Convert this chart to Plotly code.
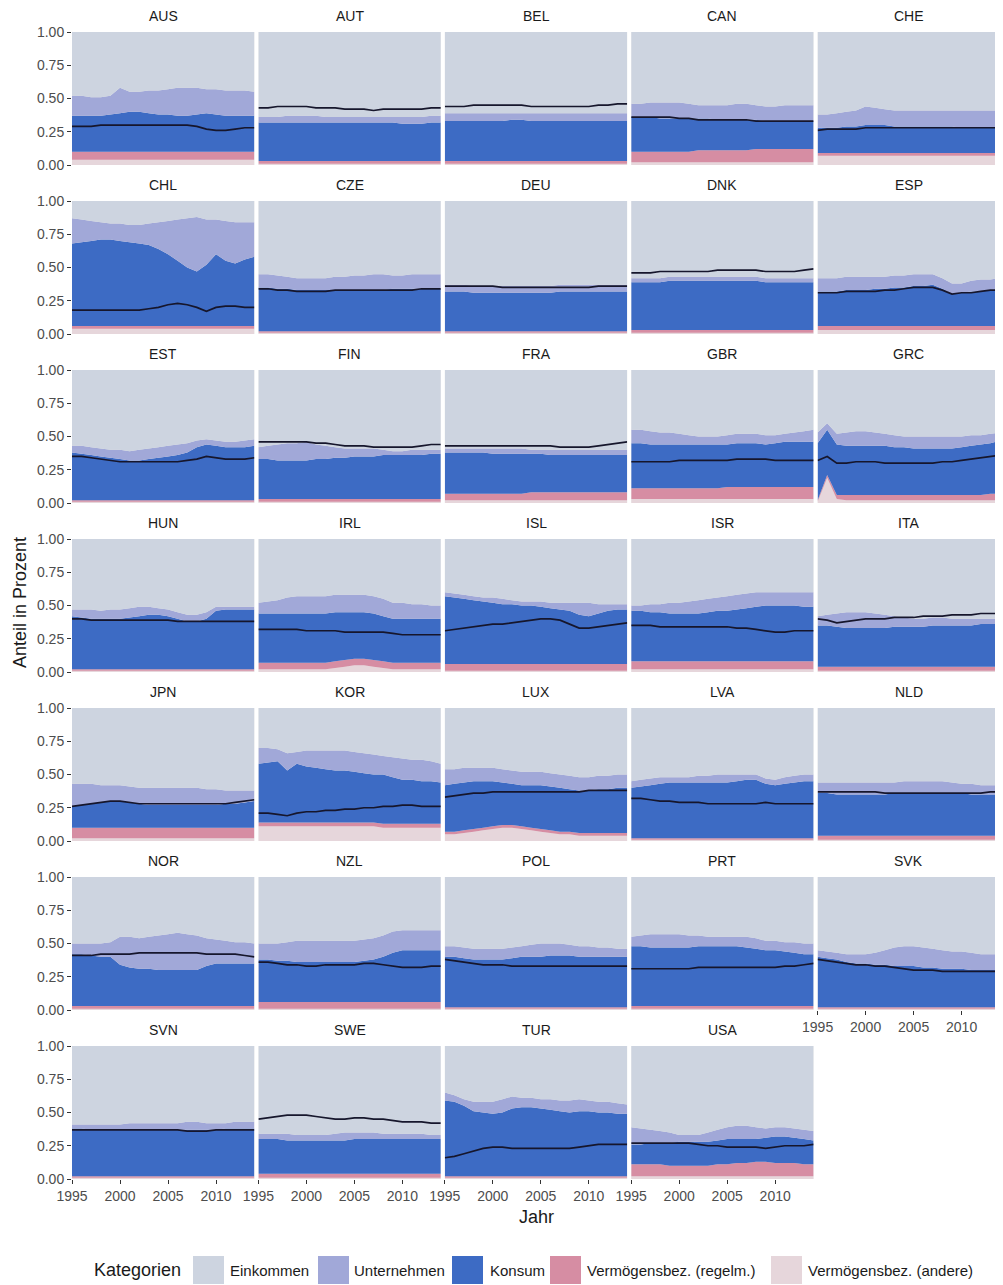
import plotly.graph_objects as go

jahre = list(range(1995, 2015))
laender = ["AUS", "AUT", "BEL", "CAN", "CHE",
           "CHL", "CZE", "DEU", "DNK", "ESP",
           "EST", "FIN", "FRA", "GBR", "GRC",
           "HUN", "IRL", "ISL", "ISR", "ITA",
           "JPN", "KOR", "LUX", "LVA", "NLD",
           "NOR", "NZL", "POL", "PRT", "SVK",
           "SVN", "SWE", "TUR", "USA"]
kategorien = ["Einkommen", "Unternehmen", "Konsum",
              "Vermögensbez. (regelm.)", "Vermögensbez. (andere)"]

# shares per category (1995..2014)
andere = {
    "AUS": [.04,.04,.04,.04,.04,.04,.04,.04,.04,.04,.04,.04,.04,.04,.04,.04,.04,.04,.04,.04],
    "AUT": [.01,.01,.01,.01,.01,.01,.01,.01,.01,.01,.01,.01,.01,.01,.01,.01,.01,.01,.01,.01],
    "BEL": [.01,.01,.01,.01,.01,.01,.01,.01,.01,.01,.01,.01,.01,.01,.01,.01,.01,.01,.01,.01],
    "CAN": [.02,.02,.02,.02,.02,.02,.02,.02,.02,.02,.02,.02,.02,.02,.02,.02,.02,.02,.02,.02],
    "CHE": [.07,.07,.07,.07,.07,.07,.07,.07,.07,.07,.07,.07,.07,.07,.07,.07,.07,.07,.07,.07],
    "CHL": [.04,.04,.04,.04,.04,.04,.04,.04,.04,.04,.04,.04,.04,.04,.04,.04,.04,.04,.04,.04],
    "CZE": [.01,.01,.01,.01,.01,.01,.01,.01,.01,.01,.01,.01,.01,.01,.01,.01,.01,.01,.01,.01],
    "DEU": [.01,.01,.01,.01,.01,.01,.01,.01,.01,.01,.01,.01,.01,.01,.01,.01,.01,.01,.01,.01],
    "DNK": [.01,.01,.01,.01,.01,.01,.01,.01,.01,.01,.01,.01,.01,.01,.01,.01,.01,.01,.01,.01],
    "ESP": [.03,.03,.03,.03,.03,.03,.03,.03,.03,.03,.03,.03,.03,.03,.03,.03,.03,.03,.03,.03],
    "EST": [.01,.01,.01,.01,.01,.01,.01,.01,.01,.01,.01,.01,.01,.01,.01,.01,.01,.01,.01,.01],
    "FIN": [.01,.01,.01,.01,.01,.01,.01,.01,.01,.01,.01,.01,.01,.01,.01,.01,.01,.01,.01,.01],
    "FRA": [.02,.02,.02,.02,.02,.02,.02,.02,.02,.02,.02,.02,.02,.02,.02,.02,.02,.02,.02,.02],
    "GBR": [.03,.03,.03,.03,.03,.03,.03,.03,.03,.03,.03,.03,.03,.03,.03,.03,.03,.03,.03,.03],
    "GRC": [.01,.19,.03,.02,.02,.02,.02,.02,.02,.02,.02,.02,.02,.02,.02,.02,.02,.02,.02,.02],
    "HUN": [.01,.01,.01,.01,.01,.01,.01,.01,.01,.01,.01,.01,.01,.01,.01,.01,.01,.01,.01,.01],
    "IRL": [.02,.02,.02,.02,.02,.02,.02,.02,.03,.04,.05,.05,.04,.03,.02,.02,.02,.02,.02,.02],
    "ISL": [.01,.01,.01,.01,.01,.01,.01,.01,.01,.01,.01,.01,.01,.01,.01,.01,.01,.01,.01,.01],
    "ISR": [.02,.02,.02,.02,.02,.02,.02,.02,.02,.02,.02,.02,.02,.02,.02,.02,.02,.02,.02,.02],
    "ITA": [.01,.01,.01,.01,.01,.01,.01,.01,.01,.01,.01,.01,.01,.01,.01,.01,.01,.01,.01,.01],
    "JPN": [.02,.02,.02,.02,.02,.02,.02,.02,.02,.02,.02,.02,.02,.02,.02,.02,.02,.02,.02,.02],
    "KOR": [.11,.11,.11,.11,.11,.11,.11,.11,.11,.11,.11,.11,.11,.10,.10,.10,.10,.10,.10,.10],
    "LUX": [.05,.05,.06,.07,.08,.09,.10,.10,.09,.08,.07,.06,.05,.05,.04,.04,.04,.04,.04,.04],
    "LVA": [.01,.01,.01,.01,.01,.01,.01,.01,.01,.01,.01,.01,.01,.01,.01,.01,.01,.01,.01,.01],
    "NLD": [.01,.01,.01,.01,.01,.01,.01,.01,.01,.01,.01,.01,.01,.01,.01,.01,.01,.01,.01,.01],
    "NOR": [.01,.01,.01,.01,.01,.01,.01,.01,.01,.01,.01,.01,.01,.01,.01,.01,.01,.01,.01,.01],
    "NZL": [.01,.01,.01,.01,.01,.01,.01,.01,.01,.01,.01,.01,.01,.01,.01,.01,.01,.01,.01,.01],
    "POL": [.01,.01,.01,.01,.01,.01,.01,.01,.01,.01,.01,.01,.01,.01,.01,.01,.01,.01,.01,.01],
    "PRT": [.01,.01,.01,.01,.01,.01,.01,.01,.01,.01,.01,.01,.01,.01,.01,.01,.01,.01,.01,.01],
    "SVK": [.01,.01,.01,.01,.01,.01,.01,.01,.01,.01,.01,.01,.01,.01,.01,.01,.01,.01,.01,.01],
    "SVN": [.01,.01,.01,.01,.01,.01,.01,.01,.01,.01,.01,.01,.01,.01,.01,.01,.01,.01,.01,.01],
    "SWE": [.01,.01,.01,.01,.01,.01,.01,.01,.01,.01,.01,.01,.01,.01,.01,.01,.01,.01,.01,.01],
    "TUR": [.01,.01,.01,.01,.01,.01,.01,.01,.01,.01,.01,.01,.01,.01,.01,.01,.01,.01,.01,.01],
    "USA": [.02,.02,.02,.02,.02,.02,.02,.02,.02,.02,.02,.02,.02,.02,.02,.02,.02,.02,.02,.02],
}

regelm = {
    "AUS": [.06,.06,.06,.06,.06,.06,.06,.06,.06,.06,.06,.06,.06,.06,.06,.06,.06,.06,.06,.06],
    "AUT": [.02,.02,.02,.02,.02,.02,.02,.02,.02,.02,.02,.02,.02,.02,.02,.02,.02,.02,.02,.02],
    "BEL": [.02,.02,.02,.02,.02,.02,.02,.02,.02,.02,.02,.02,.02,.02,.02,.02,.02,.02,.02,.02],
    "CAN": [.08,.08,.08,.08,.08,.08,.08,.09,.09,.09,.09,.09,.09,.10,.10,.10,.10,.10,.10,.10],
    "CHE": [.02,.02,.02,.02,.02,.02,.02,.02,.02,.02,.02,.02,.02,.02,.02,.02,.02,.02,.02,.02],
    "CHL": [.02,.02,.02,.02,.02,.02,.02,.02,.02,.02,.02,.02,.02,.02,.02,.02,.02,.02,.02,.02],
    "CZE": [.01,.01,.01,.01,.01,.01,.01,.01,.01,.01,.01,.01,.01,.01,.01,.01,.01,.01,.01,.01],
    "DEU": [.01,.01,.01,.01,.01,.01,.01,.01,.01,.01,.01,.01,.01,.01,.01,.01,.01,.01,.01,.01],
    "DNK": [.02,.02,.02,.02,.02,.02,.02,.02,.02,.02,.02,.02,.02,.02,.02,.02,.02,.02,.02,.02],
    "ESP": [.03,.03,.03,.03,.03,.03,.03,.03,.03,.03,.03,.03,.03,.03,.03,.03,.03,.03,.03,.03],
    "EST": [.01,.01,.01,.01,.01,.01,.01,.01,.01,.01,.01,.01,.01,.01,.01,.01,.01,.01,.01,.01],
    "FIN": [.02,.02,.02,.02,.02,.02,.02,.02,.02,.02,.02,.02,.02,.02,.02,.02,.02,.02,.02,.02],
    "FRA": [.05,.05,.05,.05,.05,.05,.05,.05,.05,.06,.06,.06,.06,.06,.06,.06,.06,.06,.06,.06],
    "GBR": [.08,.08,.08,.08,.08,.08,.08,.08,.08,.08,.09,.09,.09,.09,.09,.09,.09,.09,.09,.09],
    "GRC": [.01,.02,.03,.04,.04,.04,.04,.04,.04,.04,.04,.04,.04,.04,.04,.04,.04,.04,.05,.05],
    "HUN": [.01,.01,.01,.01,.01,.01,.01,.01,.01,.01,.01,.01,.01,.01,.01,.01,.01,.01,.01,.01],
    "IRL": [.05,.05,.05,.05,.05,.05,.05,.05,.05,.05,.05,.05,.05,.05,.05,.05,.05,.05,.05,.05],
    "ISL": [.05,.05,.05,.05,.05,.05,.05,.05,.05,.05,.05,.05,.05,.05,.05,.05,.05,.05,.05,.05],
    "ISR": [.06,.06,.06,.06,.06,.06,.06,.06,.06,.06,.06,.06,.06,.06,.06,.06,.06,.06,.06,.06],
    "ITA": [.03,.03,.03,.03,.03,.03,.03,.03,.03,.03,.03,.03,.03,.03,.03,.03,.03,.03,.03,.03],
    "JPN": [.08,.08,.08,.08,.08,.08,.08,.08,.08,.08,.08,.08,.08,.08,.08,.08,.08,.08,.08,.08],
    "KOR": [.03,.03,.03,.03,.03,.03,.03,.03,.03,.03,.03,.03,.03,.03,.03,.03,.03,.03,.03,.03],
    "LUX": [.02,.02,.02,.02,.02,.02,.02,.02,.02,.02,.02,.02,.02,.02,.02,.02,.02,.02,.02,.02],
    "LVA": [.01,.01,.01,.01,.01,.01,.01,.01,.01,.01,.01,.01,.01,.01,.01,.01,.01,.01,.01,.01],
    "NLD": [.03,.03,.03,.03,.03,.03,.03,.03,.03,.03,.03,.03,.03,.03,.03,.03,.03,.03,.03,.03],
    "NOR": [.02,.02,.02,.02,.02,.02,.02,.02,.02,.02,.02,.02,.02,.02,.02,.02,.02,.02,.02,.02],
    "NZL": [.05,.05,.05,.05,.05,.05,.05,.05,.05,.05,.05,.05,.05,.05,.05,.05,.05,.05,.05,.05],
    "POL": [.01,.01,.01,.01,.01,.01,.01,.01,.01,.01,.01,.01,.01,.01,.01,.01,.01,.01,.01,.01],
    "PRT": [.02,.02,.02,.02,.02,.02,.02,.02,.02,.02,.02,.02,.02,.02,.02,.02,.02,.02,.02,.02],
    "SVK": [.01,.01,.01,.01,.01,.01,.01,.01,.01,.01,.01,.01,.01,.01,.01,.01,.01,.01,.01,.01],
    "SVN": [.01,.01,.01,.01,.01,.01,.01,.01,.01,.01,.01,.01,.01,.01,.01,.01,.01,.01,.01,.01],
    "SWE": [.03,.03,.03,.03,.03,.03,.03,.03,.03,.03,.03,.03,.03,.03,.03,.03,.03,.03,.03,.03],
    "TUR": [.01,.01,.01,.01,.01,.01,.01,.01,.01,.01,.01,.01,.01,.01,.01,.01,.01,.01,.01,.01],
    "USA": [.09,.09,.09,.09,.08,.08,.08,.08,.08,.09,.09,.10,.10,.11,.11,.10,.10,.10,.09,.09],
}

konsum = {
    "AUS": [.27,.27,.27,.27,.28,.29,.30,.30,.29,.28,.28,.27,.27,.28,.29,.28,.27,.27,.27,.27],
    "AUT": [.29,.29,.29,.29,.29,.29,.29,.29,.29,.29,.29,.29,.29,.29,.29,.28,.28,.28,.29,.29],
    "BEL": [.30,.30,.30,.30,.30,.30,.30,.31,.31,.30,.30,.30,.30,.30,.30,.30,.30,.30,.30,.30],
    "CAN": [.26,.26,.26,.25,.25,.25,.25,.24,.24,.23,.23,.23,.23,.22,.21,.21,.21,.21,.21,.21],
    "CHE": [.19,.19,.19,.20,.20,.21,.21,.21,.20,.20,.20,.20,.20,.20,.20,.19,.19,.19,.19,.19],
    "CHL": [.62,.63,.64,.65,.65,.64,.63,.62,.61,.58,.54,.49,.44,.41,.46,.54,.49,.47,.50,.52],
    "CZE": [.33,.33,.32,.32,.31,.31,.31,.31,.31,.31,.31,.31,.31,.31,.32,.32,.32,.32,.32,.32],
    "DEU": [.30,.30,.30,.29,.29,.29,.29,.29,.29,.29,.29,.29,.30,.30,.30,.30,.30,.30,.30,.30],
    "DNK": [.36,.36,.36,.36,.37,.37,.37,.37,.37,.37,.37,.37,.37,.37,.36,.36,.36,.36,.36,.36],
    "ESP": [.26,.26,.26,.27,.27,.27,.28,.28,.29,.29,.30,.30,.31,.28,.24,.25,.26,.26,.27,.28],
    "EST": [.36,.35,.34,.33,.32,.31,.30,.30,.31,.32,.33,.34,.36,.40,.42,.41,.40,.40,.40,.41],
    "FIN": [.30,.30,.29,.29,.29,.29,.30,.30,.31,.31,.32,.32,.32,.33,.33,.33,.33,.33,.34,.34],
    "FRA": [.31,.31,.31,.31,.31,.30,.30,.30,.30,.29,.29,.28,.28,.28,.28,.28,.28,.28,.28,.28],
    "GBR": [.34,.34,.33,.33,.33,.33,.33,.33,.33,.33,.32,.33,.33,.33,.32,.33,.34,.34,.34,.34],
    "GRC": [.43,.34,.38,.37,.37,.37,.37,.37,.36,.36,.35,.35,.35,.35,.35,.36,.37,.38,.38,.40],
    "HUN": [.40,.39,.38,.38,.38,.38,.39,.40,.41,.41,.40,.38,.36,.36,.38,.44,.45,.45,.45,.45],
    "IRL": [.37,.37,.37,.37,.37,.37,.37,.37,.37,.36,.35,.35,.35,.34,.33,.33,.33,.33,.33,.33],
    "ISL": [.51,.50,.49,.48,.47,.46,.45,.45,.44,.44,.43,.42,.41,.40,.37,.36,.38,.40,.41,.41],
    "ISR": [.38,.38,.37,.37,.36,.36,.36,.36,.37,.38,.38,.39,.40,.41,.42,.42,.42,.42,.41,.41],
    "ITA": [.31,.31,.30,.29,.29,.29,.29,.29,.30,.30,.30,.30,.31,.31,.31,.31,.31,.32,.32,.32],
    "JPN": [.16,.17,.18,.19,.20,.20,.19,.18,.17,.17,.17,.17,.17,.17,.17,.17,.18,.18,.19,.20],
    "KOR": [.44,.45,.46,.39,.44,.42,.41,.40,.39,.39,.38,.37,.36,.37,.35,.33,.33,.32,.32,.31],
    "LUX": [.35,.36,.36,.36,.35,.34,.32,.31,.31,.32,.33,.33,.33,.32,.32,.32,.33,.33,.34,.34],
    "LVA": [.38,.39,.40,.41,.42,.42,.42,.42,.42,.42,.42,.43,.44,.44,.41,.40,.41,.42,.43,.43],
    "NLD": [.32,.32,.31,.31,.31,.31,.31,.31,.32,.32,.32,.32,.32,.32,.32,.32,.31,.31,.31,.31],
    "NOR": [.39,.39,.38,.37,.37,.31,.29,.28,.28,.27,.27,.27,.27,.27,.30,.32,.32,.32,.32,.32],
    "NZL": [.32,.32,.31,.31,.30,.30,.30,.30,.30,.30,.30,.31,.32,.34,.37,.39,.39,.39,.39,.39],
    "POL": [.38,.38,.37,.36,.36,.36,.36,.37,.38,.38,.38,.39,.39,.39,.38,.38,.38,.38,.38,.38],
    "PRT": [.45,.45,.44,.44,.44,.44,.44,.45,.45,.45,.45,.45,.44,.43,.42,.42,.41,.40,.39,.39],
    "SVK": [.38,.37,.36,.34,.33,.33,.32,.32,.31,.31,.31,.30,.30,.29,.29,.29,.28,.28,.28,.28],
    "SVN": [.36,.36,.35,.35,.35,.35,.35,.35,.35,.35,.35,.35,.35,.35,.35,.35,.36,.36,.36,.36],
    "SWE": [.26,.26,.26,.25,.25,.25,.25,.25,.25,.25,.26,.26,.26,.26,.26,.26,.26,.26,.26,.26],
    "TUR": [.57,.56,.53,.49,.48,.47,.48,.51,.52,.52,.51,.50,.49,.48,.49,.49,.48,.48,.47,.47],
    "USA": [.15,.15,.16,.16,.17,.18,.18,.18,.18,.18,.19,.18,.18,.17,.18,.20,.20,.19,.19,.18],
}

unternehmen = {
    "AUS": [.15,.15,.14,.14,.14,.19,.15,.15,.17,.18,.19,.21,.21,.20,.18,.19,.19,.19,.19,.18],
    "AUT": [.04,.04,.04,.05,.05,.05,.05,.04,.04,.04,.04,.04,.04,.04,.04,.05,.05,.05,.05,.05],
    "BEL": [.06,.06,.06,.06,.06,.06,.06,.05,.05,.06,.06,.06,.06,.06,.06,.06,.06,.06,.06,.06],
    "CAN": [.10,.10,.11,.12,.12,.12,.11,.10,.10,.11,.11,.12,.12,.11,.11,.11,.12,.12,.12,.12],
    "CHE": [.10,.10,.11,.11,.12,.14,.13,.12,.12,.12,.12,.12,.12,.12,.12,.13,.13,.13,.13,.13],
    "CHL": [.19,.17,.15,.13,.12,.13,.13,.14,.16,.20,.25,.31,.37,.41,.34,.26,.30,.31,.28,.26],
    "CZE": [.10,.10,.10,.09,.09,.09,.09,.09,.10,.10,.11,.11,.12,.12,.10,.10,.11,.11,.11,.11],
    "DEU": [.05,.05,.05,.05,.05,.05,.05,.05,.05,.05,.05,.05,.05,.05,.05,.05,.05,.05,.05,.05],
    "DNK": [.03,.03,.03,.03,.03,.03,.03,.03,.03,.03,.03,.03,.03,.03,.03,.03,.03,.03,.03,.03],
    "ESP": [.10,.10,.10,.10,.10,.10,.09,.09,.09,.09,.09,.09,.08,.08,.08,.07,.08,.09,.08,.08],
    "EST": [.05,.06,.06,.06,.06,.07,.07,.08,.08,.08,.08,.08,.07,.05,.04,.04,.04,.04,.05,.05],
    "FIN": [.09,.10,.12,.13,.13,.14,.11,.10,.08,.07,.06,.06,.06,.04,.03,.03,.04,.04,.03,.03],
    "FRA": [.03,.03,.03,.03,.03,.04,.04,.04,.04,.03,.03,.04,.04,.04,.04,.04,.04,.04,.04,.04],
    "GBR": [.10,.10,.10,.09,.09,.08,.07,.06,.06,.06,.07,.07,.07,.07,.07,.06,.06,.07,.08,.09],
    "GRC": [.08,.05,.08,.10,.11,.11,.10,.09,.09,.08,.09,.09,.09,.09,.09,.08,.08,.07,.07,.06],
    "HUN": [.05,.06,.07,.06,.07,.07,.07,.07,.06,.05,.05,.05,.05,.05,.05,.03,.02,.02,.02,.02],
    "IRL": [.08,.09,.10,.12,.13,.13,.13,.13,.13,.13,.13,.13,.13,.13,.12,.12,.11,.11,.10,.10],
    "ISL": [.03,.03,.03,.03,.03,.04,.04,.03,.03,.03,.04,.04,.05,.06,.09,.10,.07,.05,.04,.04],
    "ISR": [.04,.04,.06,.06,.08,.08,.09,.10,.10,.10,.11,.11,.11,.11,.10,.10,.10,.10,.11,.11],
    "ITA": [.07,.08,.10,.12,.12,.12,.11,.10,.08,.07,.06,.06,.06,.06,.05,.05,.05,.04,.04,.04],
    "JPN": [.17,.16,.15,.13,.12,.12,.12,.12,.13,.13,.13,.13,.13,.13,.12,.12,.10,.10,.09,.08],
    "KOR": [.12,.11,.09,.13,.09,.12,.13,.14,.15,.15,.15,.15,.15,.14,.15,.16,.15,.16,.15,.14],
    "LUX": [.12,.11,.11,.10,.10,.10,.10,.10,.10,.10,.10,.10,.10,.10,.10,.10,.10,.10,.10,.10],
    "LVA": [.05,.05,.05,.05,.04,.04,.04,.05,.05,.06,.06,.05,.04,.04,.04,.04,.05,.05,.05,.05],
    "NLD": [.08,.08,.09,.09,.09,.09,.09,.09,.08,.09,.09,.09,.09,.09,.08,.07,.08,.07,.07,.07],
    "NOR": [.08,.08,.09,.10,.11,.21,.23,.23,.24,.26,.27,.28,.27,.26,.21,.18,.17,.16,.16,.15],
    "NZL": [.12,.12,.13,.14,.16,.16,.16,.16,.16,.16,.16,.16,.16,.16,.16,.15,.15,.15,.15,.15],
    "POL": [.08,.08,.08,.08,.08,.08,.08,.08,.08,.09,.10,.09,.09,.08,.08,.08,.07,.07,.06,.06],
    "PRT": [.07,.08,.10,.10,.10,.10,.09,.08,.07,.07,.07,.07,.08,.08,.07,.07,.07,.08,.08,.08],
    "SVK": [.05,.05,.05,.06,.07,.07,.09,.11,.14,.15,.15,.15,.14,.14,.13,.13,.13,.12,.12,.12],
    "SVN": [.03,.03,.04,.04,.04,.04,.05,.05,.05,.05,.05,.05,.06,.06,.05,.05,.04,.05,.05,.05],
    "SWE": [.04,.04,.04,.05,.04,.04,.04,.04,.05,.06,.05,.05,.05,.04,.04,.04,.04,.04,.03,.03],
    "TUR": [.06,.05,.05,.07,.08,.09,.10,.09,.07,.07,.07,.08,.08,.09,.09,.08,.08,.08,.08,.07],
    "USA": [.13,.12,.10,.09,.08,.05,.05,.05,.07,.08,.09,.10,.10,.09,.07,.07,.07,.07,.07,.07],
}

linie = {
    "AUS": [.29,.29,.29,.30,.30,.30,.30,.30,.30,.30,.30,.30,.30,.29,.27,.26,.26,.27,.28,.28],
    "AUT": [.43,.43,.44,.44,.44,.44,.43,.43,.43,.42,.42,.42,.41,.42,.42,.42,.42,.42,.43,.43],
    "BEL": [.44,.44,.44,.45,.45,.45,.45,.45,.45,.44,.44,.44,.44,.44,.44,.44,.45,.45,.46,.46],
    "CAN": [.36,.36,.36,.36,.36,.35,.35,.34,.34,.34,.34,.34,.34,.33,.33,.33,.33,.33,.33,.33],
    "CHE": [.26,.27,.27,.27,.27,.28,.28,.28,.28,.28,.28,.28,.28,.28,.28,.28,.28,.28,.28,.28],
    "CHL": [.18,.18,.18,.18,.18,.18,.18,.18,.19,.20,.22,.23,.22,.20,.17,.20,.21,.21,.20,.20],
    "CZE": [.34,.34,.33,.33,.32,.32,.32,.32,.33,.33,.33,.33,.33,.33,.33,.33,.33,.34,.34,.34],
    "DEU": [.36,.36,.36,.36,.36,.36,.35,.35,.35,.35,.35,.35,.35,.35,.35,.35,.36,.36,.36,.36],
    "DNK": [.46,.46,.46,.47,.47,.47,.47,.47,.47,.48,.48,.48,.48,.48,.47,.47,.47,.47,.48,.49],
    "ESP": [.31,.31,.31,.32,.32,.32,.32,.33,.33,.34,.35,.35,.35,.33,.30,.31,.31,.32,.33,.33],
    "EST": [.35,.35,.34,.33,.32,.31,.31,.31,.31,.31,.31,.31,.32,.33,.35,.34,.33,.33,.33,.34],
    "FIN": [.46,.46,.46,.46,.46,.46,.45,.45,.44,.43,.43,.43,.42,.42,.42,.42,.42,.43,.44,.44],
    "FRA": [.43,.43,.43,.43,.43,.43,.43,.43,.43,.43,.43,.43,.42,.42,.42,.42,.43,.44,.45,.46],
    "GBR": [.31,.31,.31,.31,.31,.32,.32,.32,.32,.32,.32,.33,.33,.33,.33,.32,.32,.32,.32,.32],
    "GRC": [.32,.35,.30,.30,.31,.31,.31,.30,.30,.30,.30,.30,.30,.31,.31,.32,.33,.34,.35,.36],
    "HUN": [.40,.40,.39,.39,.39,.39,.39,.39,.39,.39,.39,.38,.38,.38,.38,.38,.38,.38,.38,.38],
    "IRL": [.32,.32,.32,.32,.32,.31,.31,.31,.31,.30,.30,.30,.30,.30,.29,.28,.28,.28,.28,.28],
    "ISL": [.31,.32,.33,.34,.35,.36,.36,.37,.38,.39,.40,.40,.39,.36,.33,.33,.34,.35,.36,.37],
    "ISR": [.35,.35,.35,.34,.34,.34,.34,.34,.34,.34,.34,.33,.33,.32,.31,.30,.30,.31,.31,.31],
    "ITA": [.40,.39,.37,.38,.39,.40,.40,.40,.41,.41,.41,.42,.42,.42,.43,.43,.43,.44,.44,.44],
    "JPN": [.26,.27,.28,.29,.30,.30,.29,.28,.28,.28,.28,.28,.28,.28,.28,.28,.28,.29,.30,.31],
    "KOR": [.21,.21,.20,.19,.21,.22,.22,.23,.23,.24,.24,.25,.25,.26,.26,.27,.27,.26,.26,.26],
    "LUX": [.33,.34,.35,.36,.36,.37,.37,.37,.37,.37,.37,.37,.37,.37,.37,.38,.38,.38,.38,.38],
    "LVA": [.32,.32,.31,.30,.30,.29,.29,.29,.28,.28,.28,.28,.28,.28,.29,.28,.28,.28,.28,.28],
    "NLD": [.37,.37,.37,.37,.37,.37,.37,.36,.36,.36,.36,.36,.36,.36,.36,.36,.36,.36,.37,.37],
    "NOR": [.41,.41,.41,.42,.42,.42,.42,.43,.43,.43,.43,.43,.43,.43,.42,.42,.42,.42,.41,.40],
    "NZL": [.36,.36,.35,.34,.34,.33,.33,.34,.34,.34,.34,.35,.35,.34,.33,.32,.32,.32,.33,.33],
    "POL": [.38,.37,.36,.35,.34,.34,.34,.33,.33,.33,.33,.33,.33,.33,.33,.33,.33,.33,.33,.33],
    "PRT": [.31,.31,.31,.31,.31,.31,.31,.32,.32,.32,.32,.32,.32,.32,.32,.32,.33,.33,.34,.35],
    "SVK": [.38,.37,.36,.35,.34,.34,.33,.33,.32,.31,.30,.30,.30,.29,.29,.29,.29,.29,.29,.29],
    "SVN": [.37,.37,.37,.37,.37,.37,.37,.37,.37,.37,.37,.37,.36,.36,.36,.37,.37,.37,.37,.37],
    "SWE": [.45,.46,.47,.48,.48,.48,.47,.46,.45,.45,.46,.46,.45,.45,.44,.43,.43,.43,.42,.42],
    "TUR": [.16,.17,.19,.21,.23,.24,.24,.23,.23,.23,.23,.23,.23,.23,.24,.25,.26,.26,.26,.26],
    "USA": [.27,.27,.27,.27,.27,.27,.27,.26,.25,.25,.24,.24,.24,.24,.23,.24,.25,.25,.25,.26],
}

x_ticks = [1995, 2000, 2005, 2010]
y_ticks = [0, 0.25, 0.5, 0.75, 1.0]
y_tick_labels = ["0.00", "0.25", "0.50", "0.75", "1.00"]

farben = {
    "Einkommen": "#CDD4E0",
    "Unternehmen": "#A1A8D8",
    "Konsum": "#3D6BC4",
    "Vermögensbez. (regelm.)": "#D68DA3",
    "Vermögensbez. (andere)": "#E6D6DB",
}
linienfarbe = "#16162C"
FONT = "Liberation Sans, Arial, sans-serif"

# the page places the figure 8 px from the top-left corner of the window
OFF = 8
WIN_W, WIN_H = 1003, 1285
W, H = WIN_W - OFF, WIN_H - OFF


def px(xw):
    return (xw - OFF) / W


def py(yw):
    return 1 - (yw - OFF) / H


PX0, PW, GAP = 72.0, 182.4, 4.0
PT0, PH, PITCH = 32.0, 133.0, 169.0

fig = go.Figure()
layout = {}
annotations = []

for i, land in enumerate(laender):
    row, col = divmod(i, 5)
    n = i + 1
    xs = "" if n == 1 else str(n)
    xa, ya = "x" + xs, "y" + xs
    x0 = PX0 + col * (PW + GAP)
    x1 = x0 + PW
    top = PT0 + row * PITCH
    bot = top + PH

    einkommen = [1 - (andere[land][j] + regelm[land][j] + konsum[land][j] + unternehmen[land][j])
                 for j in range(len(jahre))]
    schichten = [
        ("Vermögensbez. (andere)", andere[land]),
        ("Vermögensbez. (regelm.)", regelm[land]),
        ("Konsum", konsum[land]),
        ("Unternehmen", unternehmen[land]),
        ("Einkommen", einkommen),
    ]
    for name, werte in schichten:
        fig.add_trace(go.Scatter(
            x=jahre, y=werte, stackgroup="s" + str(n), mode="none",
            fillcolor=farben[name], name=name, showlegend=False,
            xaxis=xa, yaxis=ya, hoverinfo="skip"))
    fig.add_trace(go.Scatter(
        x=jahre, y=linie[land], mode="lines",
        line=dict(color=linienfarbe, width=1.7),
        showlegend=False, xaxis=xa, yaxis=ya, hoverinfo="skip"))

    show_x = (row == 6) or (row == 5 and col == 4)
    show_y = (col == 0)
    layout["xaxis" + xs] = dict(
        domain=[px(x0), px(x1)], range=[1995, 2014], anchor=ya,
        automargin=False,
        showgrid=False, zeroline=False, showline=False,
        tickmode="array", tickvals=x_ticks,
        ticktext=[str(t) for t in x_ticks],
        showticklabels=show_x, ticks="outside" if show_x else "",
        ticklen=4, tickwidth=1, tickcolor="#333333",
        tickfont=dict(family=FONT, size=14, color="#4D4D4D"))
    layout["yaxis" + xs] = dict(
        domain=[py(bot), py(top)], range=[0, 1], anchor=xa,
        automargin=False,
        showgrid=False, zeroline=False, showline=False,
        tickmode="array", tickvals=y_ticks, ticktext=y_tick_labels,
        showticklabels=show_y, ticks="outside" if show_y else "",
        ticklen=4, tickwidth=1, tickcolor="#333333",
        tickfont=dict(family=FONT, size=14, color="#4D4D4D"))
    annotations.append(dict(
        text=land, x=px((x0 + x1) / 2), y=py(top - 16),
        xref="paper", yref="paper", showarrow=False,
        xanchor="center", yanchor="middle",
        font=dict(family=FONT, size=14, color="#1A1A1A")))

# axis titles
annotations.append(dict(text="Anteil in Prozent", x=px(20), y=py(603),
                        xref="paper", yref="paper", showarrow=False, textangle=-90,
                        xanchor="center", yanchor="middle",
                        font=dict(family=FONT, size=18, color="#1A1A1A")))
annotations.append(dict(text="Jahr", x=px(536), y=py(1217),
                        xref="paper", yref="paper", showarrow=False,
                        xanchor="center", yanchor="middle",
                        font=dict(family=FONT, size=18, color="#1A1A1A")))

# legend (drawn manually)
shapes = []
leg_y0, leg_y1 = 1256, 1284
leg_cy = (leg_y0 + leg_y1) / 2
annotations.append(dict(text="Kategorien", x=px(92), y=py(leg_cy),
                        xref="paper", yref="paper", showarrow=False,
                        xanchor="left", yanchor="middle",
                        font=dict(family=FONT, size=18, color="#1A1A1A")))
leg_pos = [(193, 228), (318, 352), (452, 488), (550, 585), (771, 806)]
for name, (sx, tx) in zip(kategorien, leg_pos):
    shapes.append(dict(type="rect", xref="paper", yref="paper",
                       x0=px(sx), x1=px(sx + 31),
                       y0=py(leg_y1), y1=py(leg_y0),
                       fillcolor=farben[name], line=dict(width=0)))
    annotations.append(dict(text=name, x=px(tx), y=py(leg_cy),
                            xref="paper", yref="paper", showarrow=False,
                            xanchor="left", yanchor="middle",
                            font=dict(family=FONT, size=15, color="#1A1A1A")))

fig.update_layout(
    width=W, height=H, margin=dict(l=0, r=0, t=0, b=0, autoexpand=False),
    paper_bgcolor="white", plot_bgcolor="#EBEBEB",
    showlegend=False, annotations=annotations, shapes=shapes,
    **layout)

fig.write_html("out.html")
